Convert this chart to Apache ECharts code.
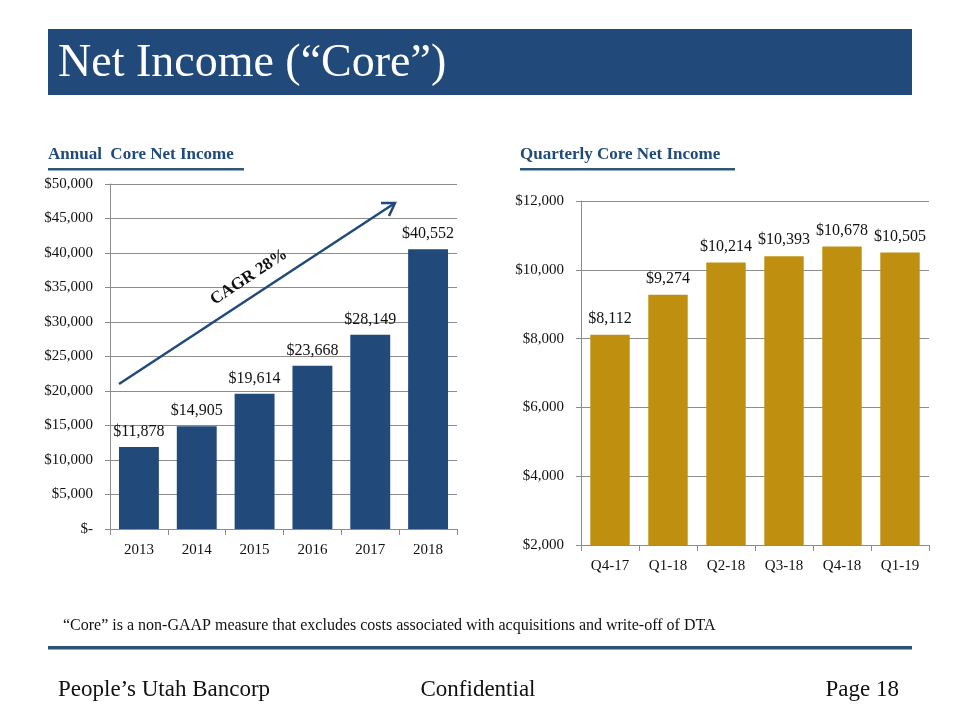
<!DOCTYPE html>
<html>
<head>
<meta charset="utf-8">
<script src="https://cdn.jsdelivr.net/npm/echarts@6/dist/echarts.min.js"></script>
<style>
html,body{margin:0;padding:0;background:#fff;}
#chart{width:960px;height:720px;}
</style>
</head>
<body>
<div id="chart"></div>
<script>
// ---- Data ----
var annualYears = ['2013', '2014', '2015', '2016', '2017', '2018'];
var annualValues = [11878, 14905, 19614, 23668, 28149, 40552];
var quarters = ['Q4-17', 'Q1-18', 'Q2-18', 'Q3-18', 'Q4-18', 'Q1-19'];
var quarterValues = [8112, 9274, 10214, 10393, 10678, 10505];
var pageTitle = 'Net Income (\u201cCore\u201d)';
var leftTitle = 'Annual  Core Net Income';
var rightTitle = 'Quarterly Core Net Income';
var cagrText = 'CAGR 28%';
var footnote = '\u201cCore\u201d is a non-GAAP measure that excludes costs associated with acquisitions and write-off of DTA';
var footerLeft = 'People\u2019s Utah Bancorp';
var footerMid = 'Confidential';
var footerRight = 'Page 18';

var SERIF = '"Liberation Serif", "DejaVu Serif", serif';
var NAVY = '#214A7B';
var GOLD = '#BF9010';
var GRID = '#8C8C8C';

function money(v) {
  if (v === 0) return '$-';
  return '$' + v.toLocaleString('en-US');
}

var chart = echarts.init(document.getElementById('chart'), null, {renderer: 'canvas'});

function yAxisCommon(min, max, interval, gi) {
  return {
    type: 'value', gridIndex: gi, min: min, max: max, interval: interval,
    axisLine: {show: true, lineStyle: {color: GRID, width: 1}},
    axisTick: {show: true, length: 5, lineStyle: {color: GRID}},
    splitLine: {show: true, lineStyle: {color: GRID, width: 1}},
    axisLabel: {fontFamily: SERIF, fontSize: 15, color: '#111', margin: 17, formatter: money}
  };
}
function xAxisCommon(cats, gi) {
  return {
    type: 'category', gridIndex: gi, data: cats,
    axisLine: {show: true, lineStyle: {color: GRID, width: 1}},
    axisTick: {show: true, length: 6, alignWithLabel: false, lineStyle: {color: GRID}},
    axisLabel: {fontFamily: SERIF, fontSize: 15, color: '#111', margin: 14}
  };
}

var option = {
  animation: false,
  backgroundColor: '#fff',
  grid: [
    {left: 110, top: 184, width: 347, height: 345},
    {left: 581, top: 201, width: 348, height: 344}
  ],
  xAxis: [xAxisCommon(annualYears, 0), xAxisCommon(quarters, 1)],
  yAxis: [yAxisCommon(0, 50000, 5000, 0), yAxisCommon(2000, 12000, 2000, 1)],
  series: [
    {
      type: 'bar', xAxisIndex: 0, yAxisIndex: 0, data: annualValues,
      barCategoryGap: '31%',
      itemStyle: {color: NAVY},
      label: {show: true, position: 'top', distance: 7, fontFamily: SERIF, fontSize: 16, color: '#111', formatter: function (p) { return money(p.value); }}
    },
    {
      type: 'bar', xAxisIndex: 1, yAxisIndex: 1, data: quarterValues,
      barCategoryGap: '32%',
      itemStyle: {color: GOLD},
      label: {show: true, position: 'top', distance: 8, fontFamily: SERIF, fontSize: 16, color: '#111', formatter: function (p) { return money(p.value); }}
    }
  ],
  graphic: [
    {type: 'rect', shape: {x: 48, y: 29, width: 864, height: 66}, style: {fill: '#214A7B'}, z: 1},
    {type: 'text', left: 58, top: 41, style: {text: pageTitle, fill: '#fff', font: '46px ' + SERIF}, z: 2},
    {type: 'text', left: 48, top: 146, style: {text: leftTitle, fill: '#1F4A7A', font: 'bold 17px ' + SERIF}},
    {type: 'rect', shape: {x: 48, y: 168, width: 196, height: 2.5}, style: {fill: '#2D5679'}},
    {type: 'text', left: 520, top: 146, style: {text: rightTitle, fill: '#1F4A7A', font: 'bold 17px ' + SERIF}},
    {type: 'rect', shape: {x: 520, y: 168, width: 215, height: 2.5}, style: {fill: '#2D5679'}},
    // CAGR arrow annotation
    {type: 'line', shape: {x1: 119, y1: 384, x2: 395, y2: 203}, style: {stroke: NAVY, lineWidth: 2.5}, z: 10},
    {type: 'polyline', shape: {points: [[381, 203], [395, 203], [389, 216]]}, style: {stroke: NAVY, lineWidth: 2.5, fill: null}, z: 10},
    {type: 'text', x: 249, y: 277, rotation: 33.3 * Math.PI / 180, style: {text: cagrText, fill: '#111', font: 'bold 17px ' + SERIF, textAlign: 'center', textVerticalAlign: 'middle'}, z: 10},
    {type: 'text', left: 63, top: 618, style: {text: footnote, fill: '#111', font: '16px ' + SERIF}},
    {type: 'rect', shape: {x: 48, y: 646, width: 864, height: 3.5}, style: {fill: '#2C5478'}},
    {type: 'text', left: 58, top: 678, style: {text: footerLeft, fill: '#111', font: '23px ' + SERIF}},
    {type: 'text', x: 478, y: 690, style: {text: footerMid, fill: '#111', font: '23px ' + SERIF, textAlign: 'center', textVerticalAlign: 'middle'}},
    {type: 'text', x: 899, y: 690, style: {text: footerRight, fill: '#111', font: '23px ' + SERIF, textAlign: 'right', textVerticalAlign: 'middle'}}
  ]
};
chart.setOption(option);
</script>
</body>
</html>
